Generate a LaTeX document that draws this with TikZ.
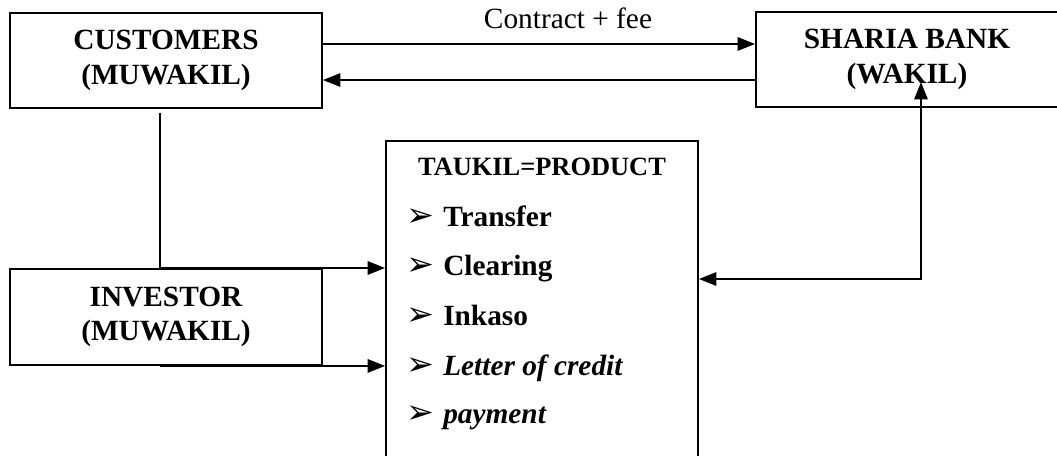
\documentclass[tikz,border=0pt]{standalone}
\usepackage{fontspec}
\setmainfont{Liberation Serif}
\newfontfamily\dingfont{DejaVu Sans}
\usetikzlibrary{calc,arrows.meta}

\begin{document}
\begin{tikzpicture}[x=0.75pt, y=-0.75pt,
    box/.style={draw, line width=1.4pt, rectangle, inner sep=0pt, align=center,
        font=\fontsize{22}{26}\selectfont\bfseries},
    arr/.style={line width=1.4pt, -{Triangle[length=13pt,width=10pt]}},
    twoarr/.style={line width=1.4pt, {Triangle[length=13pt,width=10pt]}-{Triangle[length=13pt,width=10pt]}},
    item/.style={anchor=base west, inner sep=0pt, font=\fontsize{22}{26}\selectfont\bfseries}]
    \useasboundingbox (0,0) rectangle (1057,456);

    \node[box, minimum width=234pt, minimum height=71.25pt] (cust) at (166,60.5) {CUSTOMERS\\(MUWAKIL)};
    \node[box, minimum width=226.5pt, minimum height=71.25pt] (bank) at (907,59.5) {SHARIA BANK\\(WAKIL)};
    \node[box, minimum width=234pt, minimum height=72pt] (invest) at (166,317) {INVESTOR\\(MUWAKIL)};
    \node[box, minimum width=234pt, minimum height=250.5pt] (prod) at (542,308) {};

    \node[anchor=base, inner sep=0pt, font=\fontsize{19.8}{22}\selectfont\bfseries] (title) at (542,176) {TAUKIL=PRODUCT};
    \foreach \i/\t/\y in {1/Transfer/227, 2/Clearing/276, 3/Inkaso/325, 4/\textit{Letter of credit}/375, 5/\textit{payment}/423} {
        \node[item, font=\fontsize{25}{28}\selectfont\dingfont] (B\i) at (406,\y) {➢};
        \node[item] (P\i) at (443,\y) {\t};
    }

    \node[anchor=base, inner sep=0pt, font=\fontsize{22}{26}\selectfont] (fee) at (568,29) {Contract + fee};

    \draw[arr] ([yshift=12.4pt]cust.east) -- ([yshift=12.4pt]cust.east -| bank.west);
    \draw[arr] ([yshift=-15.4pt]bank.west) -- ([yshift=-15.4pt]bank.west -| cust.east);
    \draw[arr] ([xshift=-4.5pt,yshift=-3pt]cust.south) |- ([yshift=30pt]prod.west);
    \draw[arr] ([xshift=-4.5pt]invest.south) -- (invest.south -| prod.west);
    \draw[twoarr] ([yshift=21.75pt]prod.east) -| ([xshift=10.5pt,yshift=-16.9pt]bank.center);
\end{tikzpicture}
\end{document}
